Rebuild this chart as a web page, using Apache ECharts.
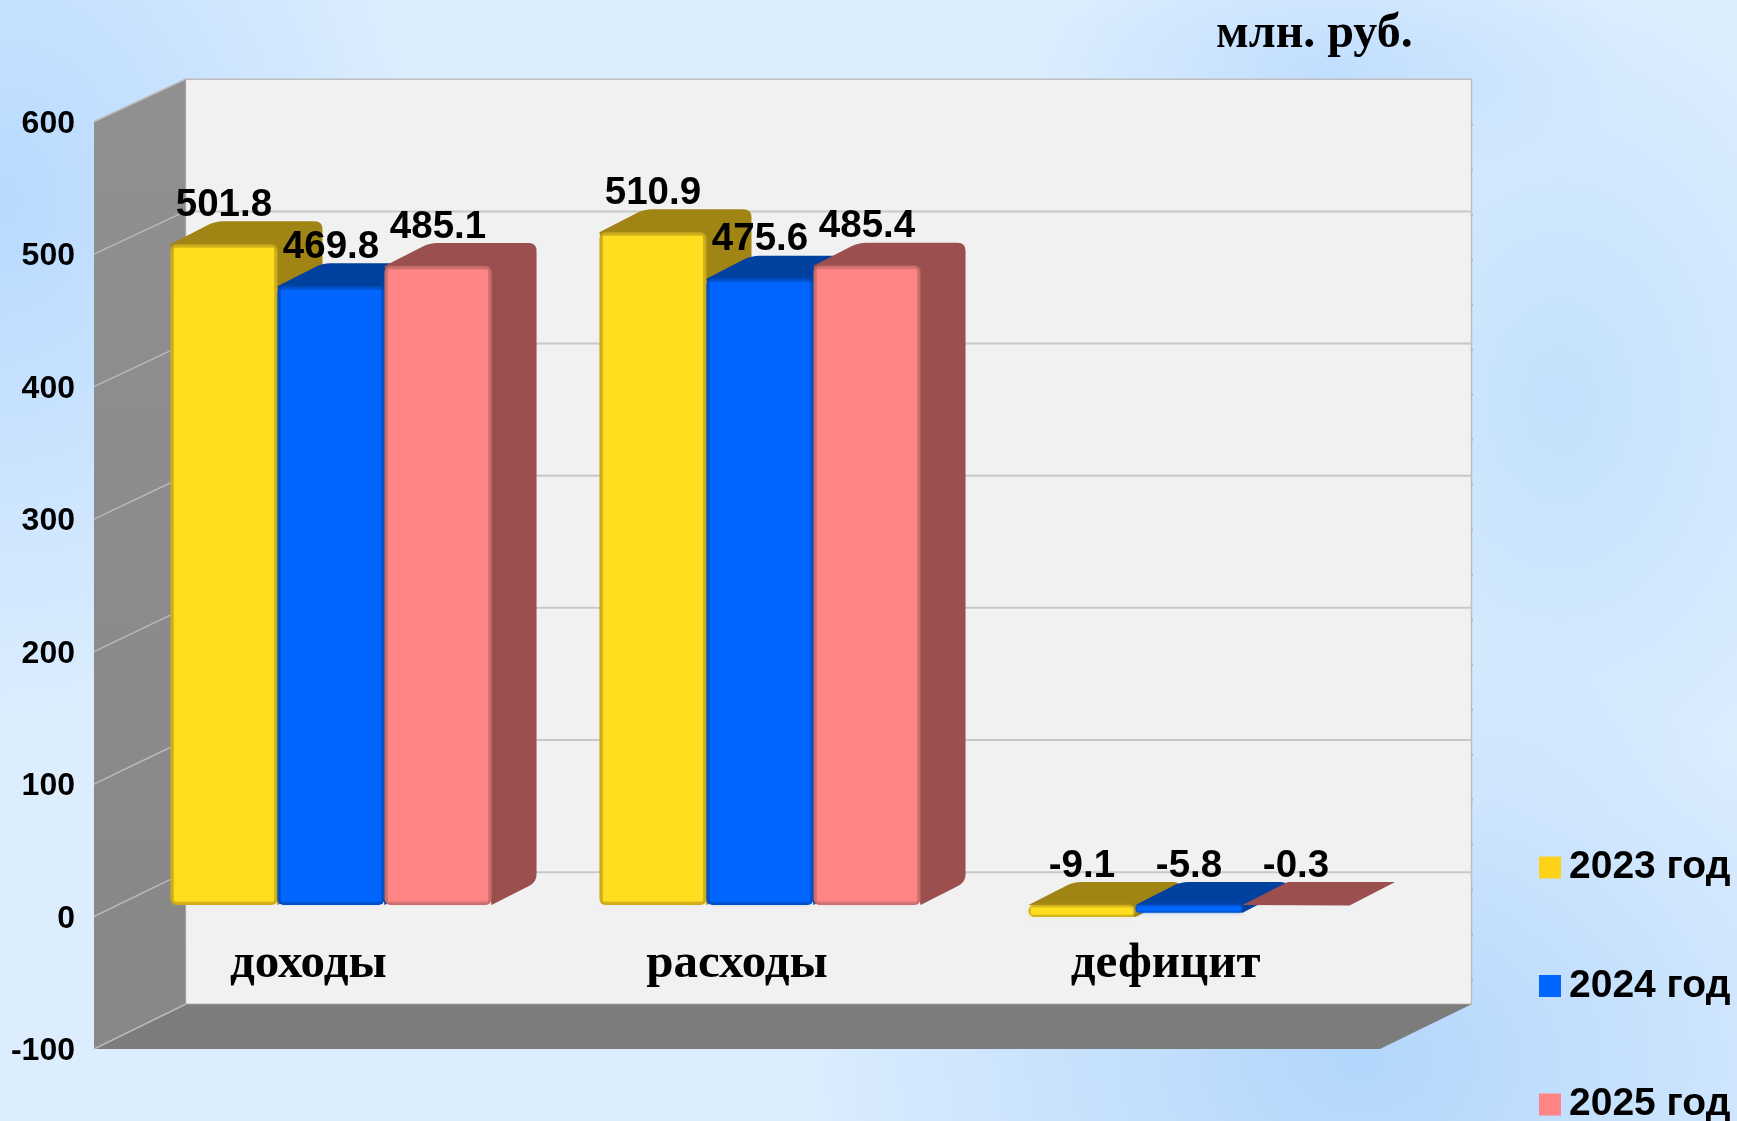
<!DOCTYPE html>
<html>
<head>
<meta charset="utf-8">
<title>млн. руб.</title>
<script src="https://cdn.jsdelivr.net/npm/echarts@6/dist/echarts.min.js"></script>
<style>
    html, body { margin: 0; padding: 0; }
    body {
        width: 1737px; height: 1121px; overflow: hidden;
        background:
            radial-gradient(ellipse 420px 520px at 0px 200px, rgba(184,218,255,1), rgba(184,218,255,0)),
            radial-gradient(ellipse 560px 420px at 1360px 1060px, rgba(178,214,252,1), rgba(178,214,252,0)),
            radial-gradient(ellipse 300px 420px at 1560px 400px, rgba(192,224,252,0.9), rgba(192,224,252,0)),
            radial-gradient(ellipse 300px 130px at 1330px 70px, rgba(192,222,254,1), rgba(192,222,254,0)),
            #dcedfe;
    }
    #main { width: 1737px; height: 1121px; }
</style>
</head>
<body>
<div id="main"></div>
<script>
    // данные
    const categories = ['доходы', 'расходы', 'дефицит'];
    const seriesNames = ['2023 год', '2024 год', '2025 год'];
    const values2023 = [501.8, 510.9, -9.1];
    const values2024 = [469.8, 475.6, -5.8];
    const values2025 = [485.1, 485.4, -0.3];
    const yTicks = [-100, 0, 100, 200, 300, 400, 500, 600];

    // цвета: передняя грань, кромка, боковая+верхняя грань, легенда
    const frontColors = ['#FFDD1F', '#0066FF', '#FF8585'];
    const edgeColors = ['#C4A31A', '#004CBE', '#C26A6A'];
    const sideColors = ['#A08414', '#00409F', '#9B4F4F'];
    const legendColors = ['#FFD21A', '#0066FF', '#FF8585'];

    const BAR_DX = 45, BAR_DY = 23;

    let myChart = echarts.init(document.getElementById('main'));

    // дальняя стенка смещена относительно передней плоскости
    function toBack(x, y) {
        return [x + 91.5, 79.3 + (y - 121.7) * 0.9975];
    }

    function roundedPath(points, radii) {
        let d = '';
        for (let i = 0; i < points.length; i++) {
            let p = points[i], r = radii[i];
            let prev = points[(i + points.length - 1) % points.length];
            let next = points[(i + 1) % points.length];
            let l1 = Math.hypot(prev[0] - p[0], prev[1] - p[1]) || 1;
            let l2 = Math.hypot(next[0] - p[0], next[1] - p[1]) || 1;
            let r1 = Math.min(r, l1 / 2), r2 = Math.min(r, l2 / 2);
            let a = [p[0] + (prev[0] - p[0]) * r1 / l1, p[1] + (prev[1] - p[1]) * r1 / l1];
            let b = [p[0] + (next[0] - p[0]) * r2 / l2, p[1] + (next[1] - p[1]) * r2 / l2];
            d += (i === 0 ? 'M' : 'L') + a[0] + ' ' + a[1] + 'Q' + p[0] + ' ' + p[1] + ' ' + b[0] + ' ' + b[1];
        }
        return d + 'Z';
    }

    // стенки и пол
    function renderWalls(params, api) {
        let c = params.coordSys;
        let tl = [c.x, c.y], bl = [c.x, c.y + c.height], br = [c.x + c.width, c.y + c.height];
        let btl = toBack(tl[0], tl[1]), bbl = toBack(bl[0], bl[1]), bbr = toBack(br[0], br[1]);
        let btr = [bbr[0], btl[1]];
        let children = [
            {
                type: 'polygon',
                shape: { points: [btl, btr, bbr, bbl] },
                style: { fill: '#F1F1F1', stroke: '#BEBEBE', lineWidth: 1.5 }
            },
            {
                type: 'polygon',
                shape: { points: [tl, btl, bbl, bl] },
                style: {
                    fill: new echarts.graphic.LinearGradient(0, 0, 0, 1, [
                        { offset: 0, color: '#909090' },
                        { offset: 1, color: '#878787' }
                    ])
                }
            },
            {
                type: 'polygon',
                shape: { points: [bl, bbl, bbr, br] },
                style: { fill: '#7C7C7C' }
            }
        ];
        for (let y = btl[1] + 45.5; y < bbl[1]; y += 45) {
            children.push({
                type: 'rect',
                shape: { x: bbr[0], y: y - 1, width: 1.5, height: 2 },
                style: { fill: '#B4B4B4' }
            });
        }
        return { type: 'group', children: children };
    }

    // линии сетки на стенке и на дальней плоскости
    function renderGridLine(params, api) {
        let c = params.coordSys;
        let y = api.coord([0, api.value(1)])[1];
        let back = toBack(c.x, y);
        let children = [{
            type: 'line',
            shape: { x1: c.x, y1: y, x2: back[0], y2: back[1] },
            style: { stroke: '#B9B9B9', lineWidth: 1.5 }
        }];
        if (api.value(1) > -100 && api.value(1) < 600) {
            children.push({
                type: 'line',
                shape: { x1: back[0], y1: back[1], x2: back[0] + c.width, y2: back[1] },
                style: { stroke: '#C8C8C8', lineWidth: 2 }
            });
        }
        return { type: 'group', children: children };
    }

    function renderBar(params, api) {
        let i = params.seriesIndex - 2;
        let band = params.coordSys.width / categories.length;
        let w = band * 0.2495;
        let value = api.value(1);
        let center = api.coord([api.value(0), value])[0];
        let left = center - w * 1.5 + i * w;
        let right = left + w;
        let top = api.coord([api.value(0), Math.max(value, 0)])[1];
        let bottom = api.coord([api.value(0), Math.min(value, 0)])[1];
        let h = bottom - top;
        let r = Math.min(6, h / 2);
        let silhouette = roundedPath([
            [left, top],
            [left + BAR_DX, top - BAR_DY],
            [right + BAR_DX, top - BAR_DY],
            [right + BAR_DX, bottom - BAR_DY],
            [right, bottom]
        ], h > 2 ? [0, 8, 8, 8, 0] : [0, 1, 1, 1, 0]);
        let children = [{
            type: 'path',
            shape: { pathData: silhouette },
            style: { fill: sideColors[i] }
        }];
        if (h > 2) {
            let inset = Math.min(3.5, h * 0.2);
            children.push({
                type: 'rect',
                shape: { x: left, y: top, width: w, height: h, r: r },
                style: { fill: edgeColors[i] }
            }, {
                type: 'rect',
                shape: { x: left + inset, y: top + inset, width: w - inset * 2, height: h - inset * 2 },
                style: { fill: frontColors[i], shadowBlur: 5, shadowColor: frontColors[i] }
            });
        }
        children.push({
            type: 'text',
            z2: 100,
            style: {
                text: value.toFixed(1),
                x: left + w / 2,
                y: top - 39,
                fill: '#000',
                font: 'bold 38.5px "Liberation Sans"',
                align: 'center',
                verticalAlign: 'middle'
            }
        });
        return { type: 'group', children: children };
    }

    let barSeries = seriesNames.map(function (name, s) {
        let values = [values2023, values2024, values2025][s];
        return {
            name: name,
            type: 'custom',
            xAxisIndex: 1,
            yAxisIndex: 1,
            clip: false,
            itemStyle: { color: legendColors[s] },
            encode: { x: 0, y: 1 },
            data: values.map(function (v, i) { return [i, v]; }),
            renderItem: renderBar
        };
    });

    let option = {
        backgroundColor: 'transparent',
        animation: false,
        title: {
            text: 'млн. руб.',
            left: 1211,
            top: 6,
            textStyle: { fontFamily: 'Liberation Serif', fontWeight: 'bold', fontSize: 48, color: '#000' }
        },
        legend: {
            orient: 'vertical',
            left: 1539,
            top: 848,
            height: 300,
            padding: 0,
            icon: 'rect',
            itemWidth: 22,
            itemHeight: 22,
            itemGap: 79.5,
            data: seriesNames,
            selectedMode: false,
            textStyle: {
                fontFamily: 'Liberation Sans',
                fontWeight: 'bold',
                fontSize: 39,
                color: '#000',
                padding: [0, 0, 0, 3]
            }
        },
        // передняя плоскость (подписи осей) и плоскость столбцов
        grid: [
            { left: 94, top: 121.7, width: 1286, height: 927.3 },
            { left: 116.5, top: 114.8, width: 1287, height: 921.9 }
        ],
        xAxis: [{
            type: 'category',
            gridIndex: 0,
            data: categories,
            z: 5,
            axisLine: { show: false },
            axisTick: { show: false },
            axisLabel: {
                margin: -109,
                fontFamily: 'Liberation Serif',
                fontWeight: 'bold',
                fontSize: 49,
                color: '#000'
            }
        }, {
            type: 'category',
            gridIndex: 1,
            data: categories,
            show: false
        }],
        yAxis: [{
            type: 'value',
            gridIndex: 0,
            min: -100,
            max: 600,
            interval: 100,
            axisLine: { show: false },
            axisTick: { show: false },
            splitLine: { show: false },
            axisLabel: {
                margin: 19,
                verticalAlign: 'top',
                lineHeight: 5,
                fontFamily: 'Liberation Sans',
                fontWeight: 'bold',
                fontSize: 32,
                color: '#000'
            }
        }, {
            type: 'value',
            gridIndex: 1,
            min: -100,
            max: 600,
            show: false
        }],
        series: [{
            type: 'custom',
            xAxisIndex: 0,
            yAxisIndex: 0,
            clip: false,
            silent: true,
            data: [[0, 0]],
            renderItem: renderWalls
        }, {
            type: 'custom',
            xAxisIndex: 0,
            yAxisIndex: 0,
            clip: false,
            silent: true,
            data: yTicks.map(function (v) { return [0, v]; }),
            renderItem: renderGridLine
        }].concat(barSeries)
    };
    myChart.setOption(option, true);
</script>
</body>
</html>
